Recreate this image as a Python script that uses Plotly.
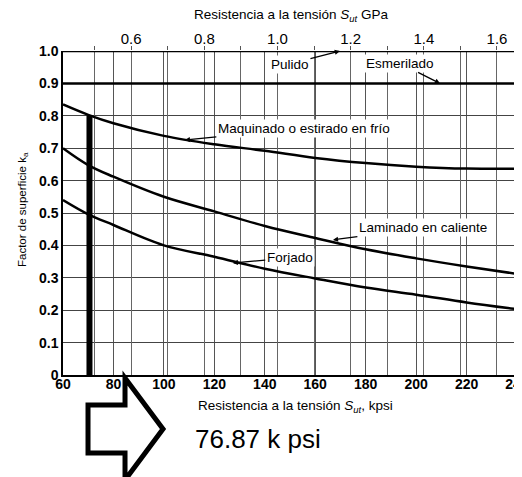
import plotly.graph_objects as go

# ---- data ----
sut_kpsi = [60, 70, 80, 100, 120, 140, 160, 180, 200, 220, 240]
maquinado = [0.835, 0.803, 0.777, 0.738, 0.712, 0.692, 0.670, 0.654, 0.643, 0.637, 0.637]
laminado = [0.70, 0.648, 0.612, 0.55, 0.505, 0.46, 0.423, 0.388, 0.36, 0.335, 0.312]
forjado = [0.54, 0.496, 0.463, 0.40, 0.365, 0.328, 0.298, 0.27, 0.248, 0.224, 0.203]
pulido = [1.0] * len(sut_kpsi)
esmerilado = [0.9] * len(sut_kpsi)
marker_x = [70.5, 70.5]
marker_y = [0.0, 0.8]

x_ticks = [60, 80, 100, 120, 140, 160, 180, 200, 220, 240]
y_ticks = [0, 0.1, 0.2, 0.3, 0.4, 0.5, 0.6, 0.7, 0.8, 0.9, 1.0]
y_ticktext = ["0", "0.1", "0.2", "0.3", "0.4", "0.5", "0.6", "0.7", "0.8", "0.9", "1.0"]
gpa_ticks = [0.5, 0.6, 0.7, 0.8, 0.9, 1.0, 1.1, 1.2, 1.3, 1.4, 1.5, 1.6]
gpa_ticktext = ["", "0.6", "", "0.8", "", "1.0", "", "1.2", "", "1.4", "", "1.6"]
KPSI_PER_GPA = 145.038

FONT = "Liberation Sans, Arial, sans-serif"
# the page body has an 8px default margin, so the figure is sized to end at the window edge
BODY = 8
W, H = 522 - BODY, 477 - BODY
# plot area in window pixels: x 63..517, y 51..375
PL, PR, PT, PB = 63, 517, 51, 375
L, R, T, B = PL - BODY, W - (PR - BODY), PT - BODY, H - (PB - BODY)
PW, PH = PR - PL, PB - PT


def px2paper(px, py):
    return (px - PL) / PW, (PB - py) / PH


fig = go.Figure()
line = dict(color="black", width=2.5)
for ys in (pulido, esmerilado, maquinado, laminado, forjado):
    fig.add_trace(go.Scatter(x=sut_kpsi, y=ys, mode="lines", line=dict(line, shape="spline"),
                             showlegend=False, hoverinfo="skip"))
fig.add_trace(go.Scatter(x=marker_x, y=marker_y, mode="lines",
                         line=dict(color="black", width=6), showlegend=False))
# dummy trace for top GPa axis
fig.add_trace(go.Scatter(x=[sut_kpsi[0] / KPSI_PER_GPA], y=[0], xaxis="x2", mode="markers",
                         marker=dict(opacity=0), showlegend=False, hoverinfo="skip"))

fig.update_layout(
    width=W, height=H,
    margin=dict(l=L, r=R, t=T, b=B),
    paper_bgcolor="white", plot_bgcolor="white",
    font=dict(family=FONT, color="black"),
    xaxis=dict(range=[60, 240], tickvals=x_ticks, showgrid=True, gridcolor="#555", gridwidth=1,
               zeroline=False, showline=True, linecolor="black", linewidth=1.5,
               tickfont=dict(size=14, weight="bold"), ticks="", automargin=False,
               ticklabelstandoff=-5, ticklabeloverflow="allow"),
    xaxis2=dict(range=[60 / KPSI_PER_GPA, 240 / KPSI_PER_GPA], overlaying="x", side="top",
                tickvals=gpa_ticks, ticktext=gpa_ticktext, showgrid=True, gridcolor="#666",
                gridwidth=1, zeroline=False, ticks="outside", ticklen=4, tickcolor="#555",
                tickfont=dict(size=15), automargin=False, ticklabeloverflow="allow",
                ticklabelstandoff=-4),
    yaxis=dict(range=[0, 1.0], tickvals=y_ticks, ticktext=y_ticktext, showgrid=True,
               gridcolor="#444", gridwidth=1, zeroline=False, showline=True, mirror=True,
               linecolor="black", linewidth=1.5, tickfont=dict(size=14, weight="bold"),
               ticks="", automargin=False),
)

ann_font = dict(family=FONT, size=13.5, color="black")
labels = [
    ("Pulido", 169.8, 1.0, -50, 13),
    ("Esmerilado", 209.5, 0.9, -40, -20),
    ("Maquinado o estirado en frío", 108.3, 0.725, 119, -12),
    ("Laminado en caliente", 167.0, 0.417, 90, -12),
    ("Forjado", 127.3, 0.346, 57, -5),
]
for text, x, y, ax, ay in labels:
    fig.add_annotation(x=x, y=y, text=text, ax=ax, ay=ay, showarrow=True, arrowhead=2,
                       arrowsize=0.8, arrowwidth=1.3, arrowcolor="black", font=ann_font,
                       bgcolor="white", borderpad=1)


def title_ann(text, px, py, size, angle=0):
    xp, yp = px2paper(px, py)
    fig.add_annotation(xref="paper", yref="paper", x=xp, y=yp, xanchor="center",
                       yanchor="middle", text=text, showarrow=False, textangle=angle,
                       font=dict(family=FONT, size=size))


title_ann("Resistencia a la tensión <i>S<sub>ut</sub></i> GPa", 291, 16, 13.5)
title_ann("Resistencia a la tensión <i>S<sub>ut</sub></i>, kpsi", 295, 406, 13.5)
title_ann("Factor de superficie k<sub>a</sub>", 23, 210, 11.5, -90)
title_ann("76.87 k psi", 258, 439, 26)

# hollow block arrow (window pixel outline -> paper coords)
pts = [(88, 405), (125, 405), (125, 378), (163, 429), (125, 480), (125, 453), (88, 453)]
pp = [px2paper(*p) for p in pts]
path = "M " + " L ".join(f"{a:.4f},{b:.4f}" for a, b in pp) + " Z"
fig.add_shape(type="path", xref="paper", yref="paper", path=path,
              line=dict(color="black", width=5), fillcolor="white", layer="above")

fig.write_html("out.html")
